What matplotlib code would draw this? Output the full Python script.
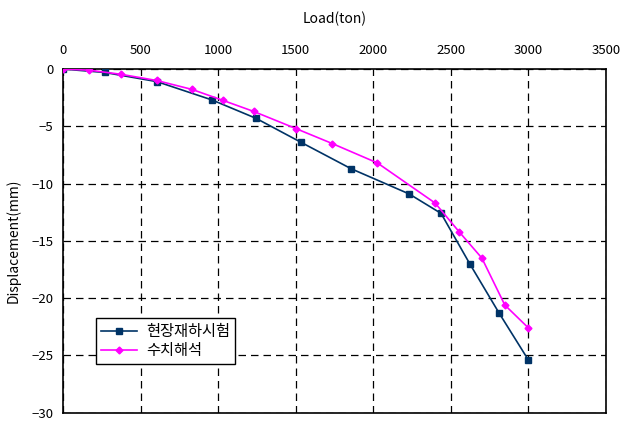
import matplotlib.pyplot as plt
import numpy as np

plt.rcParams['font.family'] = ['Noto Sans CJK KR', 'DejaVu Sans']

# field load test (navy squares)
field_load = [0, 270, 606, 961, 1244, 1535, 1857, 2231, 2437, 2622, 2811, 3000]
field_disp = [0, -0.3, -1.1, -2.7, -4.3, -6.4, -8.7, -10.9, -12.6, -17.0, -21.3, -25.4]

# numerical analysis (magenta diamonds)
num_load = [0, 170, 374, 604, 832, 1032, 1229, 1502, 1735, 2027, 2399, 2553, 2700, 2848, 3000]
num_disp = [0, -0.1, -0.46, -1.0, -1.78, -2.74, -3.7, -5.2, -6.5, -8.2, -11.7, -14.2, -16.5, -20.6, -22.6]

labels = ['현장재하시험', '수치해석']

fig = plt.figure(figsize=(6.26, 4.21), dpi=100)
ax = fig.add_axes([0.1006, 0.0197, 0.8674, 0.8163])

ax.plot(field_load, field_disp, color='#003366', marker='s', markersize=5,
        linewidth=1.2, label=labels[0], zorder=3)
ax.plot(num_load, num_disp, color='#ff00ff', marker='D', markersize=3.5,
        linewidth=1.2, label=labels[1], zorder=3)

ax.set_xlim(0, 3500)
ax.set_ylim(-30, 0)
ax.set_xticks(np.arange(0, 3501, 500))
ax.set_yticks(np.arange(-30, 1, 5))
ax.xaxis.tick_top()
ax.xaxis.set_label_position('top')
ax.tick_params(length=0, labelsize=9.5)
ax.tick_params(axis='x', pad=9)
ax.tick_params(axis='y', pad=7)

ax.grid(True, color='black', linestyle=(0, (6, 4)), linewidth=0.9)
for s in ax.spines.values():
    s.set_linewidth(1.2)

ax.set_xlabel('Load(ton)', fontsize=10, labelpad=15)
ax.set_ylabel('Displacement(mm)', fontsize=10, labelpad=8)

leg = ax.legend(loc='lower left', bbox_to_anchor=(0.061, 0.142), fontsize=11,
                frameon=True, fancybox=False, edgecolor='black',
                borderpad=0.3, labelspacing=0.15, handlelength=2.4,
                handletextpad=0.6, borderaxespad=0)
leg.get_frame().set_linewidth(1.0)
leg.get_frame().set_alpha(1)

fig.savefig('out.png', dpi=100)
